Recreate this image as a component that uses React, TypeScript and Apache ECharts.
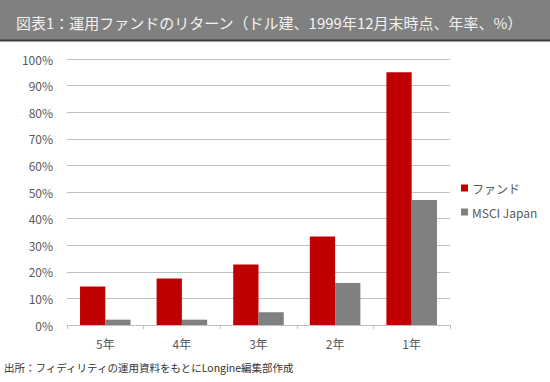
import React, { useEffect, useRef } from "react";
import * as echarts from "echarts";

const categories = ["5年", "4年", "3年", "2年", "1年"];
const fundValues = [14.5, 17.5, 22.7, 33.3, 95.0];
const msciValues = [2.0, 2.0, 4.8, 15.8, 47.0];
const seriesNames = ["ファンド", "MSCI Japan"];
const titleText = "図表1：運用ファンドのリターン（ドル建、1999年12月末時点、年率、%）";
const footerText = "出所：フィディリティの運用資料をもとにLongine編集部作成";

const FONT = "'Noto Sans CJK JP', 'Noto Sans', sans-serif";

export default function App() {
  const ref = useRef<HTMLDivElement>(null);
  useEffect(() => {
    if (!ref.current) return;
    const chart = echarts.init(ref.current, null, { renderer: "svg" });
    chart.setOption({
      animation: false,
      backgroundColor: "#ffffff",
      textStyle: { fontFamily: FONT },
      title: {
        text: titleText,
        left: 11,
        top: 10,
        textStyle: { color: "#f2f2f2", fontSize: 15, fontWeight: "normal", fontFamily: FONT },
      },
      graphic: [
        {
          type: "rect",
          z: -10,
          shape: { x: 0, y: 0, width: 550, height: 40 },
          style: { fill: "#808080" },
        },
        {
          type: "line",
          z: -9,
          shape: { x1: 0, y1: 40.5, x2: 550, y2: 40.5 },
          style: { stroke: "#3a3a3a", lineWidth: 2 },
        },
        {
          type: "text",
          left: 4,
          top: 362,
          style: { text: footerText, fill: "#333333", fontSize: 10.5, fontFamily: FONT },
        },
      ],
      legend: {
        orient: "vertical",
        left: 456,
        top: 177,
        itemWidth: 7,
        itemHeight: 7,
        itemGap: 12,
        icon: "rect",
        data: seriesNames,
        textStyle: { color: "#595959", fontSize: 12, fontFamily: FONT, padding: [0, 0, 0, -1] },
      },
      grid: { left: 67, right: 100, top: 59, bottom: 57, containLabel: false },
      xAxis: {
        type: "category",
        data: categories,
        axisLine: { show: true, lineStyle: { color: "#bfbfbf", width: 1 } },
        axisTick: { show: true, length: 4, lineStyle: { color: "#bfbfbf" } },
        axisLabel: { color: "#595959", fontSize: 12, margin: 12, fontFamily: FONT },
      },
      yAxis: {
        type: "value",
        min: 0,
        max: 100,
        interval: 10,
        axisLine: { show: false },
        axisTick: { show: false },
        splitLine: { lineStyle: { color: "#bfbfbf", width: 1 } },
        axisLabel: { color: "#595959", fontSize: 12, margin: 14, formatter: "{value}%", fontFamily: FONT },
      },
      series: [
        {
          name: seriesNames[0],
          type: "bar",
          data: fundValues,
          barGap: "0%",
          barCategoryGap: "34%",
          itemStyle: { color: "#c00000" },
        },
        {
          name: seriesNames[1],
          type: "bar",
          data: msciValues,
          itemStyle: { color: "#808080" },
        },
      ],
    });
    return () => chart.dispose();
  }, []);
  return (
    <div
      ref={ref}
      style={{ position: "fixed", left: 0, top: 0, width: 550, height: 382 }}
    />
  );
}
